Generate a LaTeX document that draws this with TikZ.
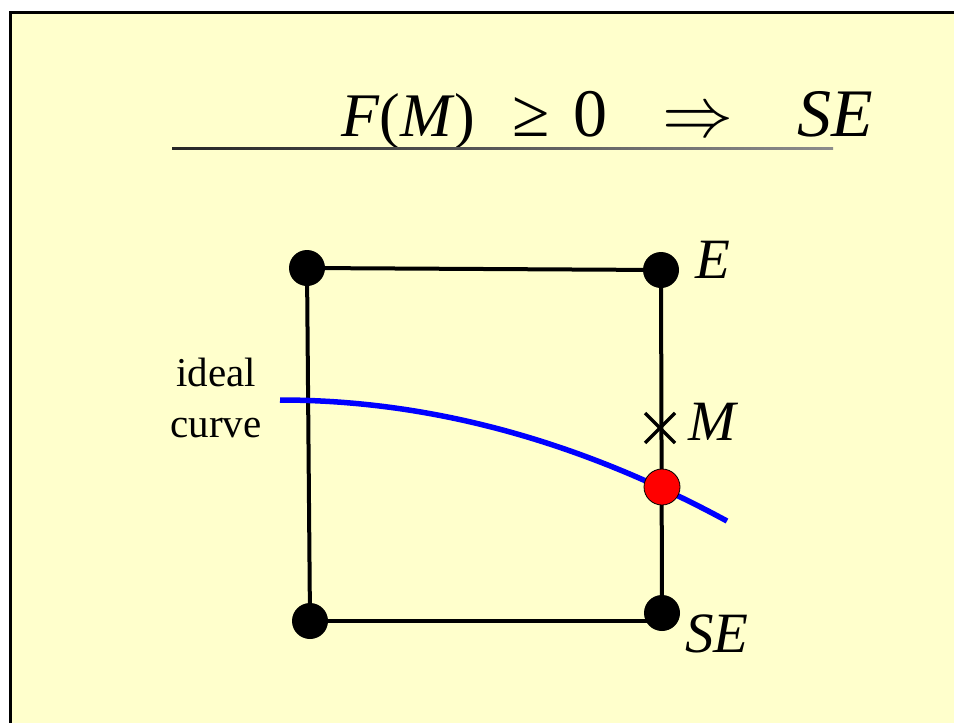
\documentclass[tikz,border=0pt]{standalone}
\usepackage{graphicx}
\usepackage{fontspec}
\setmainfont{Liberation Serif}
\definecolor{slide}{HTML}{FFFFCC}
\begin{document}
\begin{tikzpicture}[x=1pt,y=-1pt,
  edge/.style={line width=4pt,black},
  dot/.style={circle,fill=black,minimum size=36pt,inner sep=0pt},
  bigup/.style={inner sep=0pt,anchor=base west,font=\fontsize{68}{80}\selectfont},
  lab/.style={inner sep=0pt,anchor=base west,font=\fontsize{57}{68}\selectfont\itshape},
  small/.style={inner sep=0pt,anchor=base,font=\fontsize{40}{48}\selectfont}]
\useasboundingbox (0,0) rectangle (954,723);
\fill[white] (0,0) rectangle (954,723);
\fill[slide] (10,12) rectangle (954,723);
\draw[line width=3pt] (10,723) -- (10,12) -- (954,12);
% title
\node[bigup,font=\fontsize{62}{74}\selectfont] (tF) at (341,136) {\textit{F}(\textit{M})};
\node[bigup] (tge) at (512,136) {≥};
\node[bigup] (t0) at (573,136) {0};
\node[inner sep=0pt,anchor=base west] (tarr) at (662,136) {\scalebox{7.1}{$\Rightarrow$}};
\node[bigup] (tSE) at (797,136) {\textit{SE}};
\shade[left color=black!85,right color=black!45] (172,147) rectangle (833,149.5);
% square
\node[dot] (tl) at (307,268) {};
\node[dot] (tr) at (661,270) {};
\node[dot] (bl) at (310,621) {};
\node[dot] (br) at (662,613) {};
\draw[edge] (tl.center) -- (tr.center);
\draw[edge] (tr.center) -- (br.center);
\draw[edge] (bl.center) -- (bl.center -| br.center);
\draw[edge] (tl.center) -- (bl.center);
% ideal curve
\coordinate (cs) at (280,400);
\coordinate (ce) at (727,521);
\draw[blue,line width=5.5pt] (cs) .. controls (429,400) and (578.3,440.3) .. (ce);
\node[circle,fill=red,draw=black,line width=0.8pt,minimum size=36pt,inner sep=0pt] (red) at (662,487) {};
% M cross
\coordinate (m) at (660,428);
\draw[edge,line width=3.5pt] ([shift={(-15,-15)}]m) -- ([shift={(15,15)}]m);
\draw[edge,line width=3.5pt] ([shift={(-15,15)}]m) -- ([shift={(15,-15)}]m);
% labels
\node[lab] (lE) at (695,278) {E};
\node[lab] (lM) at (688,440) {M};
\node[lab] (lSE) at (685,652) {SE};
\node[small,font=\fontsize{41}{49}\selectfont] (ideal) at (216,386) {ideal};
\node[small,font=\fontsize{41}{49}\selectfont] (curve) at (216,437) {curve};
\end{tikzpicture}
\end{document}
